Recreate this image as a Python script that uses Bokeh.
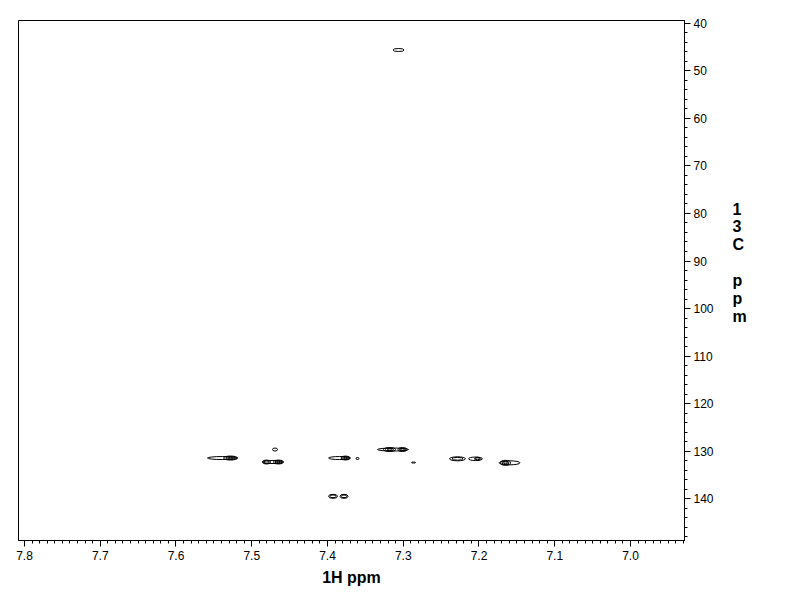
from bokeh.plotting import figure
from bokeh.models import Range1d, LinearAxis, SingleIntervalTicker, ColumnDataSource, NumeralTickFormatter
from bokeh.embed import file_html
from bokeh.resources import INLINE

# Contour components of the HSQC cross peaks (1H ppm, 13C ppm, widths, number of contour levels)
h_ppm  = [7.3062, 7.5386, 7.5280, 7.4693, 7.4719, 7.4805, 7.4647, 7.3841, 7.3762, 7.3604,
          7.3135, 7.3181, 7.3010, 7.2864, 7.2284, 7.2046, 7.2020, 7.1597, 7.1650, 7.3927, 7.3782]
c_ppm  = [45.58, 131.48, 131.48, 129.69, 132.32, 132.32, 132.32, 131.48, 131.48, 131.58,
          129.69, 129.69, 129.69, 132.43, 131.64, 131.64, 131.64, 132.49, 132.49, 139.54, 139.54]
h_wid  = [0.0145, 0.0396, 0.0185, 0.0066, 0.0277, 0.0106, 0.0132, 0.0290, 0.0119, 0.0040,
          0.0409, 0.0158, 0.0119, 0.0053, 0.0211, 0.0185, 0.0079, 0.0277, 0.0132, 0.0119, 0.0106]
c_wid  = [0.63, 0.63, 0.84, 0.63, 0.63, 0.84, 0.84, 0.63, 0.84, 0.42,
          0.63, 0.84, 0.84, 0.21, 0.84, 0.74, 0.63, 0.84, 1.05, 0.84, 0.84]
levels = [1, 1, 3, 1, 1, 2, 3, 1, 3, 1,
          1, 3, 3, 1, 2, 1, 2, 1, 3, 2, 2]
level_scale = [1.0, 0.68, 0.4]

x_ticks_interval = 0.1
y_ticks_interval = 10

xs, ys, ws, hs = [], [], [], []
for hx, cy, wx, wy, n in zip(h_ppm, c_ppm, h_wid, c_wid, levels):
    for k in range(n):
        xs.append(hx)
        ys.append(cy)
        ws.append(wx * level_scale[k])
        hs.append(wy * level_scale[k])
src = ColumnDataSource(dict(x=xs, y=ys, w=ws, h=hs))

p = figure(width=784, height=604, output_backend="svg", toolbar_location=None,
           x_range=Range1d(7.8079, 6.9287), y_range=Range1d(148.84, 39.37),
           x_axis_location=None, y_axis_location=None,
           min_border_left=18, min_border_top=20, min_border_right=100, min_border_bottom=64)
p.grid.visible = False
p.outline_line_color = "black"
p.outline_line_width = 1
p.background_fill_color = "white"
p.border_fill_color = "white"

p.ellipse(x="x", y="y", width="w", height="h", source=src,
          fill_color=None, line_color="black", line_width=1)

font = "Liberation Sans"
xaxis = LinearAxis(ticker=SingleIntervalTicker(interval=x_ticks_interval, num_minor_ticks=10),
                   axis_label="1H ppm", formatter=NumeralTickFormatter(format="0.0"))
yaxis = LinearAxis(ticker=SingleIntervalTicker(interval=y_ticks_interval, num_minor_ticks=5),
                   axis_label="1\n3\nC\n\np\np\nm\n \n ")
for ax in (xaxis, yaxis):
    ax.major_tick_in = 0
    ax.major_tick_out = 6
    ax.minor_tick_in = 0
    ax.minor_tick_out = 3
    ax.axis_line_color = "black"
    ax.major_tick_line_color = "black"
    ax.minor_tick_line_color = "black"
    ax.major_label_text_font = font
    ax.major_label_text_font_size = "12px"
    ax.major_label_text_color = "black"
    ax.axis_label_text_font = font
    ax.axis_label_text_font_size = "16px"
    ax.axis_label_text_font_style = "bold"
    ax.axis_label_text_color = "black"
xaxis.major_label_standoff = 4
xaxis.axis_label_standoff = 6
yaxis.major_label_standoff = 3
yaxis.axis_label_standoff = 16
yaxis.axis_label_orientation = "horizontal"
yaxis.axis_label_text_line_height = 1.05
p.add_layout(xaxis, "below")
p.add_layout(yaxis, "right")

open("out.html", "w").write(file_html(p, INLINE))
